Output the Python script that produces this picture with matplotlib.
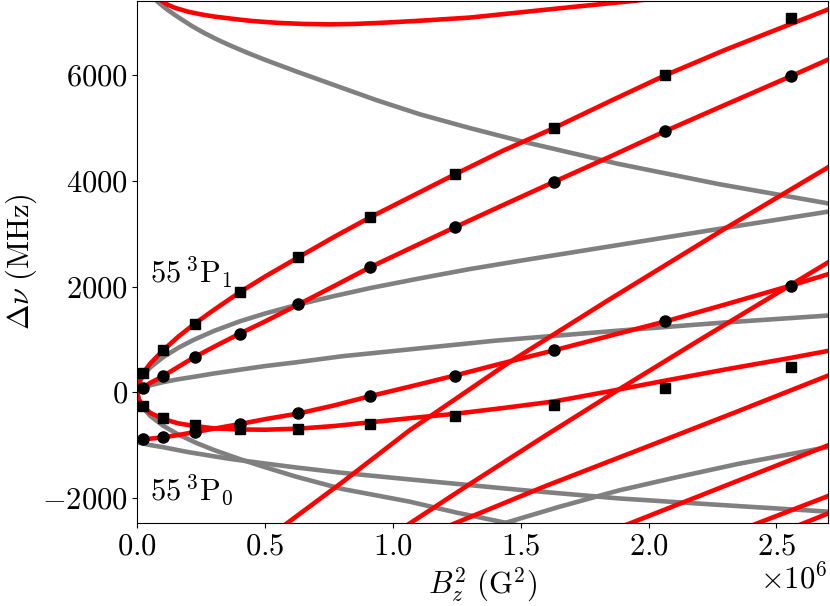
import numpy as np
import matplotlib
matplotlib.use('Agg')
import matplotlib.pyplot as plt

plt.rcParams['font.family'] = 'serif'
plt.rcParams['font.serif'] = ['cmr10']
plt.rcParams['mathtext.fontset'] = 'cm'
plt.rcParams['axes.formatter.use_mathtext'] = True
plt.rcParams['font.size'] = 22

# measured points (B_z^2 in units of 1e6 G^2, shift in MHz)
x_marks = [0.022, 0.100, 0.224, 0.400, 0.630, 0.910, 1.241, 1.630, 2.066, 2.557]
sq_upper = [364, 792, 1296, 1892, 2553, 3308, 4126, 5006, 6000, 7081]
ci_upper = [89, 302, 666, 1107, 1660, 2364, 3119, 3981, 4943, 5981]
ci_lower = [-893, -855, -749, -604, -403, -75, 314, 792, 1340, 2019]
sq_lower = [-264, -497, -623, -704, -692, -604, -453, -245, 81, 478]

# calculated 55 3P levels (red), shared x grid
x_calc = [0, 0.005, 0.022, 0.05, 0.1, 0.16, 0.224, 0.3, 0.4, 0.5, 0.63, 0.77,
          0.91, 1.07, 1.241, 1.43, 1.63, 1.85, 2.066, 2.3, 2.557, 2.7]
calc_a = [0, 175, 360, 540, 790, 1050, 1296, 1560, 1890, 2190, 2553, 2940,
          3308, 3700, 4120, 4570, 5000, 5510, 6000, 6480, 6970, 7240]
calc_b = [0, 22, 89, 175, 302, 480, 666, 860, 1107, 1340, 1660, 2010,
          2364, 2730, 3119, 3540, 3981, 4460, 4943, 5440, 5981, 6290]
calc_c = [-905, -903, -893, -880, -855, -810, -755, -690, -604, -510, -403, -250,
          -75, 110, 314, 550, 792, 1070, 1340, 1660, 2019, 2230]
calc_d = [0, -128, -264, -390, -505, -590, -640, -685, -705, -710, -690, -640,
          -570, -490, -410, -300, -175, 20, 220, 430, 650, 780]

# other calculated red levels
top_x = [0.05, 0.07, 0.1, 0.12, 0.15, 0.2, 0.25, 0.3, 0.376, 0.45, 0.55, 0.65,
         0.754, 0.85, 0.95, 1.105, 1.3, 1.5, 1.7, 1.93, 2.1]
top_y = [7620, 7510, 7390, 7330, 7270, 7200, 7150, 7110, 7065, 7025, 6990, 6970,
         6962, 6970, 6990, 7030, 7090, 7190, 7290, 7400, 7490]
r1_x = [0.5, 0.583, 0.8, 1.064, 1.45, 1.84, 2.3, 2.7]
r1_y = [-2790, -2490, -1710, -725, 550, 1735, 3100, 4250]
r2_x = [1.0, 1.07, 1.3, 1.6, 1.9, 2.2, 2.45, 2.7]
r2_y = [-2700, -2470, -1740, -810, 100, 990, 1720, 2450]
r3_x = [1.15, 1.248, 1.6, 2.0, 2.35, 2.7]
r3_y = [-2680, -2470, -1770, -1020, -360, 310]
r4_x = [1.85, 1.934, 2.3, 2.7]
r4_y = [-2630, -2470, -1770, -1010]
r5_x = [2.35, 2.432, 2.7]
r5_y = [-2630, -2470, -1970]
r6_x = [2.55, 2.7]
r6_y = [-2590, -2300]

# gray levels
g1_x = [0.06, 0.077, 0.1, 0.12, 0.145, 0.167, 0.21, 0.257, 0.31, 0.362, 0.43,
        0.5, 0.622, 0.766, 0.934, 1.105, 1.3, 1.493, 1.883, 2.273, 2.7]
g1_y = [7480, 7400, 7305, 7230, 7145, 7075, 6940, 6810, 6680, 6565, 6425,
        6290, 6070, 5820, 5530, 5260, 5000, 4760, 4320, 3940, 3575]
g2_x = [0, 0.005, 0.02, 0.05, 0.1, 0.16, 0.22, 0.3, 0.4, 0.5, 0.63, 0.77,
        0.91, 1.1, 1.3, 1.5, 1.9, 2.3, 2.7]
g2_y = [0, 148, 295, 467, 660, 840, 990, 1160, 1340, 1490, 1660, 1820,
        1970, 2150, 2330, 2490, 2800, 3110, 3415]
g3_x = [0, 0.01, 0.02, 0.05, 0.1, 0.16, 0.232, 0.3, 0.4, 0.5, 0.622, 0.8, 1.064,
        1.4, 1.883, 2.3, 2.7]
g3_y = [0, 55, 80, 130, 190, 245, 300, 355, 425, 495, 566, 680, 810,
        975, 1166, 1320, 1450]
g4_x = [0, 0.05, 0.1, 0.2, 0.362, 0.5, 0.622, 0.8, 1.064, 1.5, 1.883, 2.3, 2.7]
g4_y = [-950, -1000, -1040, -1135, -1262, -1350, -1425, -1525, -1650, -1850,
        -2010, -2140, -2260]
g5_x = [0, 0.005, 0.02, 0.05, 0.1, 0.16, 0.232, 0.3, 0.4, 0.5, 0.622, 0.8,
        1.064, 1.25, 1.45, 1.6]
g5_y = [0, -141, -283, -447, -632, -800, -963, -1095, -1265, -1420, -1600, -1830,
        -2070, -2280, -2480, -2630]
g6_x = [1.3, 1.428, 1.65, 1.883, 2.1, 2.35, 2.7]
g6_y = [-2700, -2490, -2170, -1860, -1620, -1357, -1040]

scale = 1e6

fig = plt.figure(figsize=(8.3, 6.06), dpi=100)
ax = fig.add_axes([0.1655, 0.137, 0.8315, 0.861])

lw = 3.3
for gx, gy in [(g1_x, g1_y), (g2_x, g2_y), (g3_x, g3_y),
               (g4_x, g4_y), (g5_x, g5_y), (g6_x, g6_y)]:
    ax.plot(np.array(gx) * scale, gy, color='gray', lw=lw, zorder=1)

for cy in [calc_a, calc_b, calc_c, calc_d]:
    ax.plot(np.array(x_calc) * scale, cy, color='red', lw=lw, zorder=2)

for rx, ry in [(top_x, top_y), (r1_x, r1_y), (r2_x, r2_y), (r3_x, r3_y),
               (r4_x, r4_y), (r5_x, r5_y), (r6_x, r6_y)]:
    ax.plot(np.array(rx) * scale, ry, color='red', lw=lw, zorder=2)

xm = np.array(x_marks) * scale
ax.plot(xm, sq_upper, 's', color='black', ms=7.5, zorder=3)
ax.plot(xm, sq_lower, 's', color='black', ms=7.5, zorder=3)
ax.plot(xm, ci_upper, 'o', color='black', ms=8, zorder=3)
ax.plot(xm, ci_lower, 'o', color='black', ms=8, zorder=3)

ax.text(0.05e6, 2264, r'$55\,{}^{3}\mathrm{P}_{1}$', fontsize=22, va='center')
ax.text(0.05e6, -1860, r'$55\,{}^{3}\mathrm{P}_{0}$', fontsize=22, va='center')

ax.set_xlim(0, 2.7e6)
ax.set_ylim(-2475, 7400)
ax.set_xticks([0, 0.5e6, 1.0e6, 1.5e6, 2.0e6, 2.5e6])
ax.set_yticks([-2000, 0, 2000, 4000, 6000])
ax.set_xlabel(r'$B_z^2\ (\mathrm{G}^2)$', labelpad=4)
ax.set_ylabel(r'$\Delta\nu\ (\mathrm{MHz})$', labelpad=2)

fig.savefig('out.png', dpi=100)
